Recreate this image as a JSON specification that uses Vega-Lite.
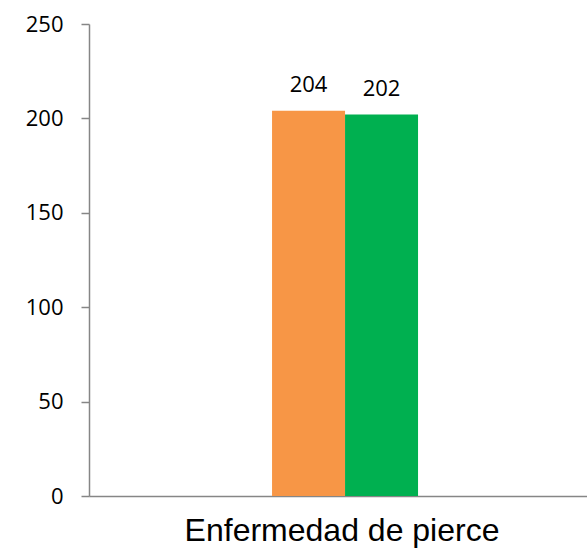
{
  "$schema": "https://vega.github.io/schema/vega-lite/v6.json",
  "autosize": {"type": "none"},
  "padding": {"left": 89, "top": 24, "right": 0, "bottom": 56},
  "width": 498,
  "height": 472,
  "background": "white",
  "data": {"values": [
    {"categoria": "Enfermedad de pierce", "serie": "A", "valor": 204},
    {"categoria": "Enfermedad de pierce", "serie": "B", "valor": 202}
  ]},
  "encoding": {
    "x": {"field": "categoria", "type": "nominal", "title": null,
      "scale": {"paddingInner": 0.1705, "paddingOuter": 1, "align": 0.52},
      "axis": {"labelAngle": 0, "labelFontSize": 32, "labelFont": "Liberation Sans", "labelColor": "black", "labelLimit": 0, "labelOffset": -3, "ticks": false, "domainColor": "#868686", "labelPadding": 19}},
    "xOffset": {"field": "serie", "type": "nominal", "scale": {"paddingInner": 0, "paddingOuter": 0}},
    "y": {"field": "valor", "type": "quantitative", "title": null,
      "scale": {"domain": [0, 250], "nice": false},
      "axis": {"values": [0, 50, 100, 150, 200, 250], "grid": false, "tickSize": 8, "tickColor": "#868686", "domainColor": "#868686", "labelFontSize": 22, "labelFont": "Open Sans", "labelColor": "black", "labelPadding": 18}}
  },
  "layer": [
    {"mark": {"type": "bar"},
     "encoding": {"color": {"field": "serie", "type": "nominal", "legend": null,
        "scale": {"domain": ["A", "B"], "range": ["#F79646", "#00B050"]}}}},
    {"mark": {"type": "text", "dy": -19, "fontSize": 22, "font": "Open Sans", "color": "black", "baseline": "alphabetic"},
     "encoding": {"text": {"field": "valor", "type": "quantitative"}}}
  ],
  "config": {"view": {"stroke": null}, "axis": {"domainWidth": 1.5, "tickWidth": 1.5}}
}
